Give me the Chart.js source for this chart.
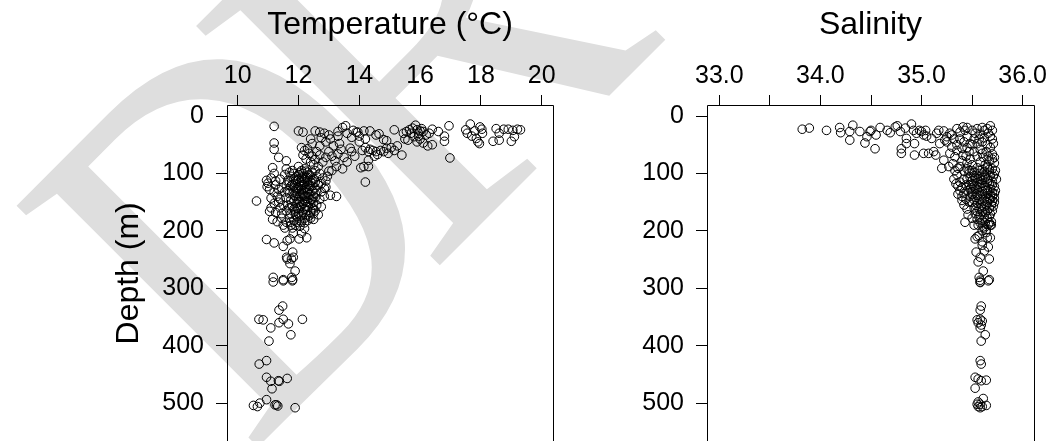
<!DOCTYPE html>
<html lang="en">
<head>
<meta charset="UTF-8">
<title>Temperature and salinity profiles</title>
<script src="https://cdn.jsdelivr.net/npm/chart.js"></script>
<style>
  html, body { margin: 0; padding: 0; background: #fff; overflow: hidden; }
  #wrap { position: relative; width: 1051px; height: 441px; overflow: hidden; }
  canvas { position: absolute; top: 0; }
  #tempChart { left: 0; }
  #salChart { left: 560px; }
</style>
</head>
<body>
<div id="wrap">
  <canvas id="tempChart" width="560" height="447"></canvas>
  <canvas id="salChart" width="491" height="447"></canvas>
</div>
<script>
// [temperature (°C), depth (m)]
const tempProfile = [
  // surface layer
  [11.2,18],[12.0,26],[12.15,28],[12.55,26],[12.7,28],[12.85,30],[13.0,33],[13.3,27],[13.45,20],[13.55,17],
  [13.8,25],[13.75,37],[13.95,28],[14.15,26],[14.35,26],[14.55,33],[14.65,31],[14.8,41],[14.9,43],[15.15,24],
  [15.45,30],[15.55,27],[15.65,24],[15.75,21],[15.85,16],[15.9,24],[15.95,30],[16.0,26],[16.05,22],[16.1,27],
  [16.2,33],[15.6,42],[15.9,45],[16.0,40],[15.8,36],[16.25,52],[16.4,50],[16.4,23],[16.6,27],[16.8,35],
  [16.8,44],[16.95,17],[16.98,73],[17.5,24],[17.55,30],[17.65,14],[17.7,35],[17.8,26],[17.85,39],[17.9,45],
  [17.95,48],[17.97,19],[18.03,23],[18.05,30],[18.4,44],[18.5,22],[18.6,30],[18.6,42],[18.75,23],[18.9,23],
  [19.0,44],[19.05,25],[19.1,36],[19.2,23],[19.3,24],[15.7,30],[15.95,35],[16.1,47],[15.5,40],[16.3,30],
  [11.2,47],[11.2,58],[13.9,28],[14.0,35],[14.2,40],[13.6,30],[13.3,35],
  // thermocline band
  [12.1,55],[12.2,60],[12.3,57],[12.15,68],[12.35,65],[12.45,70],[12.25,75],[12.4,80],[12.55,76],[12.6,62],
  [12.7,68],[12.5,85],[12.65,88],[12.8,80],[12.9,72],[13.0,62],[13.1,70],[13.2,78],[13.3,66],[12.45,48],
  [12.7,52],[12.9,45],[13.15,52],[13.35,48],[13.4,58],[13.5,72],[13.6,80],[13.25,88],[13.1,95],[13.45,92],
  [12.4,40],[12.75,38],[13.05,40],[13.7,56],[13.75,62],[13.85,70],[14.0,45],[14.1,60],[14.2,55],[14.3,62],
  [14.35,58],[14.45,60],[14.55,62],[14.6,67],[14.7,60],[14.8,62],[14.9,56],[15.05,55],[15.15,60],[15.25,52],
  [15.4,68],[14.95,65],[14.5,70],[14.3,77],[14.15,88],[14.3,88],[14.05,90],[14.2,115],[13.25,140],
  // main cluster
  [10.62,148],[10.95,112],[11.0,117],[10.97,123],[11.15,90],[11.2,100],[11.1,108],[11.25,113],[11.05,128],[11.2,133],
  [11.1,143],[11.3,140],[11.2,152],[11.35,150],[11.1,160],[11.05,166],[11.25,168],[11.4,160],[11.15,180],[11.3,184],
  [11.45,178],[11.5,190],[11.6,185],[11.55,195],[11.75,190],[11.35,72],[11.4,110],[11.45,125],[11.35,128],[11.4,145],
  [11.5,155],[11.45,170],[11.25,120],
  [11.6,78],[11.6,92],[11.55,102],[11.7,98],[11.8,95],[11.65,112],[11.75,105],[11.85,110],[11.6,120],[11.75,122],
  [11.9,118],[11.55,132],[11.7,135],[11.85,130],[11.95,125],[11.6,142],[11.75,146],[11.9,140],[11.65,155],[11.8,158],
  [11.95,152],[11.6,165],[11.75,170],[11.9,166],[11.7,178],[11.85,182],[11.95,175],[11.8,195],
  [12.0,88],[12.1,95],[12.2,92],[12.3,98],[12.0,102],[12.15,105],[12.25,108],[12.4,104],[12.05,115],[12.2,118],
  [12.3,114],[12.45,112],[12.0,125],[12.1,128],[12.25,124],[12.4,122],[12.05,135],[12.15,138],[12.3,133],[12.45,130],
  [12.0,145],[12.2,148],[12.35,143],[12.5,140],[12.1,155],[12.25,158],[12.4,152],[12.0,162],[12.15,168],[12.3,165],
  [12.45,160],[12.05,175],[12.2,178],[12.35,174],[12.5,170],[12.1,185],[12.3,182],[12.05,192],[12.2,196],[12.15,130],
  [12.1,112],[12.35,120],[12.2,140],[12.25,150],[12.1,120],
  [11.85,100],[11.95,105],[12.05,98],[12.15,100],[12.25,96],[12.35,102],[12.45,98],[11.9,112],[12.0,110],[12.1,108],
  [12.2,110],[12.3,107],[12.4,115],[12.5,110],[11.85,122],[11.95,128],[12.05,122],[12.15,120],[12.25,128],[12.35,126],
  [12.45,122],[12.55,125],[11.85,138],[11.95,135],[12.05,140],[12.15,135],[12.25,140],[12.35,137],[12.45,145],[12.55,135],
  [11.85,148],[11.95,145],[12.05,150],[12.15,152],[12.3,150],[12.4,146],[12.5,150],[11.85,162],[11.95,160],[12.05,158],
  [12.2,162],[12.3,158],[12.4,168],[12.5,162],[11.9,172],[12.0,170],[12.1,172],[12.25,172],[12.4,178],[11.95,185],
  [12.05,182],[12.2,186],[11.9,190],[11.75,185],[11.7,160],[11.65,130],[11.8,120],[11.7,115],
  [12.55,95],[12.6,105],[12.7,100],[12.8,108],[12.55,115],[12.65,120],[12.75,118],[12.9,113],[12.6,130],[12.75,132],
  [12.85,126],[12.55,142],[12.7,145],[12.85,140],[13.05,138],[12.6,155],[12.75,158],[12.55,165],[12.65,172],[12.5,180],
  [12.95,105],[13.0,96],[12.9,124],
  // deep water
  [10.95,215],[11.2,221],[11.5,227],[11.63,217],[11.72,214],[12.02,214],[12.1,204],[12.27,212],[11.83,204],[11.81,237],
  [11.63,249],[11.77,249],[11.83,246],[11.72,257],[11.89,270],[11.17,281],[11.17,289],[11.5,285],[11.78,281],[11.81,285],
  [11.61,246],[11.5,287],[11.8,287],[11.48,331],[11.36,338],[10.7,354],[10.84,355],[11.5,354],[11.36,360],[11.67,362],
  [12.13,354],[11.09,369],[11.75,381],[11.03,392],[10.95,426],[10.71,432],[10.95,455],[11.09,462],[11.34,461],[11.37,462],
  [11.63,457],[11.13,475],[10.52,504],[10.65,506],[10.73,500],[10.95,494],[11.23,503],[11.32,505],[11.28,503],[11.89,508]
];

// [salinity, depth (m)]
const salProfile = [
  // surface layer
  [33.82,23],[33.89,21],[34.06,25],[34.19,20],[34.2,29],[34.29,27],[34.32,16],[34.29,42],[34.39,27],[34.44,47],
  [34.46,36],[34.49,27],[34.5,25],[34.55,33],[34.54,57],[34.59,20],[34.66,25],[34.69,29],[34.74,19],[34.76,17],
  [34.79,27],[34.8,57],[34.8,65],[34.84,21],[34.85,39],[34.85,48],[34.9,14],[34.92,25],[34.93,48],[34.93,68],
  [34.95,30],[34.98,25],[35.0,27],[35.02,33],[35.02,65],[35.04,25],[35.07,65],[35.1,39],[35.12,62],[35.14,68],
  [35.17,25],[35.18,48],[35.2,91],[35.22,77],[35.22,26],[35.23,42],[35.25,36],[35.28,30],[35.27,88],[35.28,65],
  [35.3,54],[35.33,71],[35.31,83],[35.36,91],[35.41,68],[35.4,56],[35.48,48],[35.45,36],[35.43,25],[35.41,19],
  [35.35,22],[35.38,28],[35.3,33],[35.15,30],[35.05,35],[35.25,45],[35.35,60],[35.45,20],
  [35.38,40],[35.42,45],[35.45,55],[35.47,62],[35.44,70],[35.4,78],[35.5,85],[35.35,50],[35.32,40],
  [35.68,17],[35.62,25],[35.66,30],[35.7,40],[35.6,45],[35.65,50],[35.71,48],[35.58,58],[35.64,62],[35.7,66],
  [35.72,72],[35.61,72],[35.67,78],[35.72,82],[35.63,85],[35.55,70],[35.57,40],[35.53,30],[35.5,50],[35.52,62],
  [35.48,75],[35.45,82],
  [35.6,20],[35.65,22],[35.7,25],[35.58,32],[35.68,35],[35.62,38],[35.55,48],[35.68,55],[35.6,65],[35.66,70],
  [35.7,75],[35.58,80],[35.65,90],[35.55,22],[35.5,25],[35.52,40],
  // main cluster
  [35.33,95],[35.35,102],[35.32,110],[35.34,118],[35.36,122],[35.38,130],[35.36,136],[35.4,140],[35.4,147],[35.42,155],
  [35.45,162],[35.43,185],[35.38,88],[35.42,96],
  [35.45,92],[35.5,95],[35.55,90],[35.6,93],[35.65,88],[35.7,92],[35.47,100],[35.52,104],[35.57,100],[35.62,103],
  [35.67,98],[35.72,101],[35.45,110],[35.5,113],[35.55,109],[35.6,112],[35.65,110],[35.7,114],[35.47,120],[35.52,122],
  [35.57,119],[35.62,121],[35.67,118],[35.72,123],[35.45,130],[35.5,132],[35.55,128],[35.6,131],[35.65,129],[35.7,133],
  [35.48,140],[35.53,142],[35.58,139],[35.63,141],[35.68,138],[35.72,143],[35.5,150],[35.55,152],[35.6,149],[35.65,151],
  [35.7,148],[35.52,160],[35.57,162],[35.62,158],[35.67,161],[35.71,157],[35.53,170],[35.58,172],[35.63,168],[35.68,171],
  [35.55,180],[35.6,182],[35.65,178],[35.69,184],[35.56,190],[35.61,193],[35.66,189],[35.69,190],[35.6,200],[35.64,198],
  [35.58,110],[35.63,125],[35.68,145],[35.54,135],[35.59,155],[35.49,125],[35.74,110],[35.73,130],[35.73,95],
  [35.47,95],[35.52,98],[35.57,95],[35.62,97],[35.67,93],[35.71,105],[35.48,106],[35.53,108],[35.58,105],[35.63,107],
  [35.68,104],[35.5,118],[35.55,116],[35.6,117],[35.65,115],[35.7,120],[35.48,128],[35.53,126],[35.58,124],[35.63,130],
  [35.68,127],[35.72,135],[35.5,136],[35.55,138],[35.6,136],[35.65,135],[35.7,140],[35.52,146],[35.57,145],[35.62,146],
  [35.67,144],[35.72,150],[35.54,156],[35.59,160],[35.64,155],[35.69,155],[35.55,166],[35.6,166],[35.65,165],[35.7,165],
  [35.57,176],[35.62,176],[35.67,175],[35.58,186],[35.63,186],[35.67,186],[35.62,195],[35.4,125],[35.42,135],[35.44,145],
  [35.38,115],[35.42,110],[35.44,120],[35.47,150],[35.46,172],[35.5,178],[35.52,190],
  // deep water
  [35.53,214],[35.55,210],[35.6,219],[35.65,212],[35.68,212],[35.66,228],[35.64,203],[35.68,190],[35.54,237],[35.56,254],
  [35.58,246],[35.61,270],[35.57,281],[35.58,289],[35.67,285],[35.67,249],[35.6,225],[35.62,235],[35.57,208],[35.58,286],
  [35.58,290],[35.66,287],[35.59,331],[35.58,338],[35.55,355],[35.58,354],[35.6,357],[35.56,360],[35.59,364],[35.58,369],
  [35.63,381],[35.59,392],[35.58,426],[35.59,432],[35.53,455],[35.56,458],[35.59,461],[35.64,460],[35.53,474],[35.61,492],
  [35.56,498],[35.58,502],[35.56,506],[35.6,506],[35.58,508],[35.64,504],[35.55,502]
];

const depthTicks = [0, 100, 200, 300, 400, 500];
const tempTicks = [10, 12, 14, 16, 18, 20];
const salTicks = [33.0, 33.5, 34.0, 34.5, 35.0, 35.5, 36.0];

const FONT = '"Liberation Sans", Arial, Helvetica, sans-serif';
Chart.defaults.font.family = FONT;
Chart.defaults.color = '#000';

// big grey "DRAFT" stamp, drawn in page coordinates so it runs across both panels;
// letters are placed one by one along the slanted baseline
const stampLetters = ['D', 'R', 'A', 'F', 'T'];
const stampOffsets = [0, 252, 700, 1010, 1250];
const stampWidths = [1, 1.15, 1, 1, 1];

const draftStamp = {
  id: 'draftStamp',
  beforeDraw(chart, args, opts) {
    const ctx = chart.ctx;
    ctx.save();
    ctx.translate(-opts.offsetX, 0);
    ctx.translate(249, 456);
    ctx.rotate(-45 * Math.PI / 180);
    ctx.scale(1, 1.185);
    ctx.font = '440px "Liberation Serif", "DejaVu Serif", serif';
    ctx.fillStyle = '#dedede';
    ctx.textAlign = 'left';
    ctx.textBaseline = 'alphabetic';
    stampLetters.forEach((ch, i) => {
      ctx.save();
      ctx.translate(stampOffsets[i], 0);
      ctx.scale(stampWidths[i], 1);
      ctx.fillText(ch, 0, 0);
      ctx.restore();
    });
    ctx.restore();
  }
};

// open frame round the plot region (bottom edge falls below the page)
const frame = {
  id: 'frame',
  afterDraw(chart) {
    const {ctx, chartArea: a} = chart;
    const l = Math.round(a.left) + 0.5, r = Math.round(a.right) + 0.5, t = Math.round(a.top) + 0.5;
    ctx.save();
    ctx.strokeStyle = '#000';
    ctx.lineWidth = 1;
    ctx.beginPath();
    ctx.moveTo(l, a.bottom + 10);
    ctx.lineTo(l, t);
    ctx.lineTo(r, t);
    ctx.lineTo(r, a.bottom + 10);
    ctx.stroke();
    ctx.restore();
  }
};

function profileChart(id, points, opts) {
  return new Chart(document.getElementById(id), {
    type: 'scatter',
    data: {
      datasets: [{
        data: points.map(([v, d]) => ({x: v, y: d})),
        pointStyle: 'circle',
        pointRadius: 4.3,
        borderWidth: 1,
        borderColor: '#000',
        backgroundColor: 'rgba(0,0,0,0)'
      }]
    },
    options: {
      responsive: false,
      animation: false,
      events: [],
      layout: { padding: { left: 0, top: 0, right: opts.padRight, bottom: 0 } },
      plugins: {
        legend: { display: false },
        tooltip: { enabled: false },
        draftStamp: { offsetX: opts.offsetX }
      },
      scales: {
        x: {
          type: 'linear',
          position: 'top',
          min: opts.xMin,
          max: opts.xMax,
          afterBuildTicks: s => { s.ticks = opts.xTicks.map(v => ({value: v})); },
          afterFit: s => { s.height = 105; s.paddingLeft = 0; s.paddingRight = 0; },
          ticks: {
            font: { size: 25 },
            color: '#000',
            padding: 4,
            autoSkip: false,
            maxRotation: 0,
            callback: opts.xLabel
          },
          grid: { drawOnChartArea: false, drawTicks: true, tickLength: 10, tickColor: '#000', color: '#000' },
          border: { display: false },
          title: {
            display: true,
            text: opts.title,
            font: { size: 32 },
            color: '#000',
            padding: { top: 6, bottom: 0 }
          }
        },
        y: {
          type: 'linear',
          reverse: true,
          min: -19.2,
          max: 567.2,
          afterBuildTicks: s => { s.ticks = depthTicks.map(v => ({value: v})); },
          afterFit: s => { s.width = opts.yWidth; s.paddingTop = 0; s.paddingBottom = 0; },
          ticks: {
            font: { size: 25 },
            color: '#000',
            padding: 12,
            autoSkip: false,
            callback: v => String(v)
          },
          grid: { drawOnChartArea: false, drawTicks: true, tickLength: 11, tickColor: '#000', color: '#000' },
          border: { display: false },
          title: {
            display: opts.yTitle !== '',
            text: opts.yTitle,
            font: { size: 32 },
            color: '#000',
            padding: { top: 110, bottom: 0 }
          }
        }
      }
    },
    plugins: [draftStamp, frame]
  });
}

profileChart('tempChart', tempProfile, {
  offsetX: 0,
  padRight: 7,
  yWidth: 227,
  xMin: 9.65,
  xMax: 20.37,
  xTicks: tempTicks,
  xLabel: v => String(v),
  title: 'Temperature (°C)',
  yTitle: 'Depth (m)'
});

profileChart('salChart', salProfile, {
  offsetX: 560,
  padRight: 17,
  yWidth: 147,
  xMin: 32.878,
  xMax: 36.112,
  xTicks: salTicks,
  xLabel: v => (Number.isInteger(v) ? v.toFixed(1) : ''),
  title: 'Salinity',
  yTitle: ''
});
</script>
</body>
</html>
